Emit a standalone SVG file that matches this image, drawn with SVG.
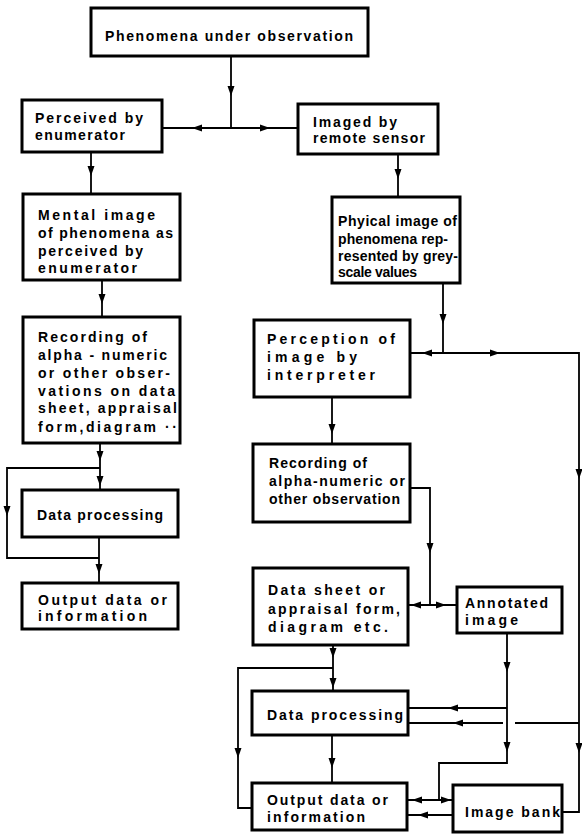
<svg xmlns="http://www.w3.org/2000/svg" xmlns:xlink="http://www.w3.org/1999/xlink" width="582" height="836" viewBox="0 0 582 836">
<style>
.box{fill:#fff;stroke:#000;stroke-width:3}
.t{font-family:"Liberation Sans",Arial,sans-serif;font-size:14px;font-weight:bold;fill:#000}
.c{fill:none;stroke:#000;stroke-width:1.8}
</style>
<defs>
<path id="ah" d="M0,0 L-10,-3.5 L-10,3.5 Z" fill="#000"/>
</defs>
<rect width="582" height="836" fill="#fff"/>
<g id="connectors">
<path class="c" d="M231,56 V128 M162,128 H298"/>
<path class="c" d="M91,152 V194"/>
<path class="c" d="M398,154 V197"/>
<path class="c" d="M102,280 V317"/>
<path class="c" d="M100,443 V490 M100,468 H7 V558 H99 M99,537 V583"/>
<path class="c" d="M443,283 V353 M410,353 H579 V812 H562"/>
<path class="c" d="M332,397 V444"/>
<path class="c" d="M410,488 H430 V605 M408,605 H457"/>
<path class="c" d="M333,645 V691 M333,668 H238 V808 H252"/>
<path class="c" d="M332,735 V783"/>
<path class="c" d="M507,633 V763 H439 V800 M507,708 H408"/>
<path class="c" d="M407,800 H453 M453,815 H407"/>
<path class="c" d="M579,723 H515 M503,723 H408"/>
<use xlink:href="#ah" transform="translate(231,96) rotate(90)"/>
<use xlink:href="#ah" transform="translate(192,128) rotate(180)"/>
<use xlink:href="#ah" transform="translate(270,128)"/>
<use xlink:href="#ah" transform="translate(91,176) rotate(90)"/>
<use xlink:href="#ah" transform="translate(398,179) rotate(90)"/>
<use xlink:href="#ah" transform="translate(102,304) rotate(90)"/>
<use xlink:href="#ah" transform="translate(100,461) rotate(90)"/>
<use xlink:href="#ah" transform="translate(100,486) rotate(90)"/>
<use xlink:href="#ah" transform="translate(7,516) rotate(90)"/>
<use xlink:href="#ah" transform="translate(99,574) rotate(90)"/>
<use xlink:href="#ah" transform="translate(443,324) rotate(90)"/>
<use xlink:href="#ah" transform="translate(422,353) rotate(180)"/>
<use xlink:href="#ah" transform="translate(500,353)"/>
<use xlink:href="#ah" transform="translate(579,479) rotate(90)"/>
<use xlink:href="#ah" transform="translate(579,753) rotate(90)"/>
<use xlink:href="#ah" transform="translate(332,434) rotate(90)"/>
<use xlink:href="#ah" transform="translate(430,553) rotate(90)"/>
<use xlink:href="#ah" transform="translate(411,605) rotate(180)"/>
<use xlink:href="#ah" transform="translate(446,605)"/>
<use xlink:href="#ah" transform="translate(333,658) rotate(90)"/>
<use xlink:href="#ah" transform="translate(333,688) rotate(90)"/>
<use xlink:href="#ah" transform="translate(238,758) rotate(90)"/>
<use xlink:href="#ah" transform="translate(332,768) rotate(90)"/>
<use xlink:href="#ah" transform="translate(507,672) rotate(90)"/>
<use xlink:href="#ah" transform="translate(507,752) rotate(90)"/>
<use xlink:href="#ah" transform="translate(448,708) rotate(180)"/>
<use xlink:href="#ah" transform="translate(453,723) rotate(180)"/>
<use xlink:href="#ah" transform="translate(412,800) rotate(180)"/>
<use xlink:href="#ah" transform="translate(451,800)"/>
<use xlink:href="#ah" transform="translate(418,815) rotate(180)"/>
</g>
<g id="phenomena">
<rect class="box" x="91" y="8" width="277" height="48"/>
<text class="t" x="105" y="41" textLength="248">Phenomena under observation</text>
</g>
<g id="perceived">
<rect class="box" x="22" y="100" width="140" height="52"/>
<text class="t" x="35" y="123" textLength="108">Perceived by</text>
<text class="t" x="35" y="140" textLength="90">enumerator</text>
</g>
<g id="imaged">
<rect class="box" x="298" y="104" width="140" height="50"/>
<text class="t" x="313" y="127" textLength="84">Imaged by</text>
<text class="t" x="313" y="143" textLength="112">remote sensor</text>
</g>
<g id="mental">
<rect class="box" x="23" y="194" width="157" height="86"/>
<text class="t" x="38" y="220" textLength="117">Mental image</text>
<text class="t" x="38" y="238" textLength="135">of phenomena as</text>
<text class="t" x="38" y="256" textLength="105">perceived by</text>
<text class="t" x="38" y="273" textLength="99">enumerator</text>
</g>
<g id="recording-left">
<rect class="box" x="23" y="317" width="157" height="126"/>
<text class="t" x="38" y="342" textLength="109">Recording of</text>
<text class="t" x="38" y="360" textLength="129">alpha - numeric</text>
<text class="t" x="38" y="378" textLength="132">or other obser-</text>
<text class="t" x="38" y="396" textLength="137">vations on data</text>
<text class="t" x="38" y="413" textLength="139">sheet, appraisal</text>
<text class="t" x="38" y="432" textLength="139">form,diagram ··</text>
</g>
<g id="dataproc-left">
<rect class="box" x="22" y="490" width="156" height="47"/>
<text class="t" x="37" y="520" textLength="126">Data processing</text>
</g>
<g id="output-left">
<rect class="box" x="22" y="583" width="156" height="46"/>
<text class="t" x="38" y="605" textLength="129">Output data or</text>
<text class="t" x="38" y="621" textLength="109">information</text>
</g>
<g id="physical">
<rect class="box" x="332" y="197" width="128" height="86"/>
<text class="t" x="338" y="226" textLength="119">Phyical image of</text>
<text class="t" x="338" y="244" textLength="110">phenomena rep-</text>
<text class="t" x="338" y="261" textLength="120">resented by grey-</text>
<text class="t" x="338" y="277" textLength="79">scale values</text>
</g>
<g id="perception">
<rect class="box" x="254" y="320" width="156" height="77"/>
<text class="t" x="267" y="344" textLength="128">Perception of</text>
<text class="t" x="267" y="362" textLength="90">image  by</text>
<text class="t" x="267" y="380" textLength="108">interpreter</text>
</g>
<g id="recording-right">
<rect class="box" x="253" y="444" width="157" height="78"/>
<text class="t" x="269" y="468" textLength="98">Recording of</text>
<text class="t" x="269" y="486" textLength="136">alpha-numeric or</text>
<text class="t" x="269" y="504" textLength="131">other observation</text>
</g>
<g id="datasheet">
<rect class="box" x="253" y="568" width="155" height="77"/>
<text class="t" x="268" y="595" textLength="117">Data sheet or</text>
<text class="t" x="268" y="614" textLength="132">appraisal form,</text>
<text class="t" x="268" y="632" textLength="120">diagram etc.</text>
</g>
<g id="annotated">
<rect class="box" x="457" y="587" width="105" height="46"/>
<text class="t" x="465" y="608" textLength="83">Annotated</text>
<text class="t" x="465" y="625" textLength="53">image</text>
</g>
<g id="dataproc-right">
<rect class="box" x="252" y="691" width="156" height="44"/>
<text class="t" x="267" y="720" textLength="136">Data processing</text>
</g>
<g id="output-right">
<rect class="box" x="252" y="783" width="155" height="47"/>
<text class="t" x="267" y="805" textLength="121">Output data or</text>
<text class="t" x="267" y="822" textLength="98">information</text>
</g>
<g id="imagebank">
<rect class="box" x="453" y="785" width="109" height="47"/>
<text class="t" x="465" y="817" textLength="95">Image bank</text>
</g>
</svg>
